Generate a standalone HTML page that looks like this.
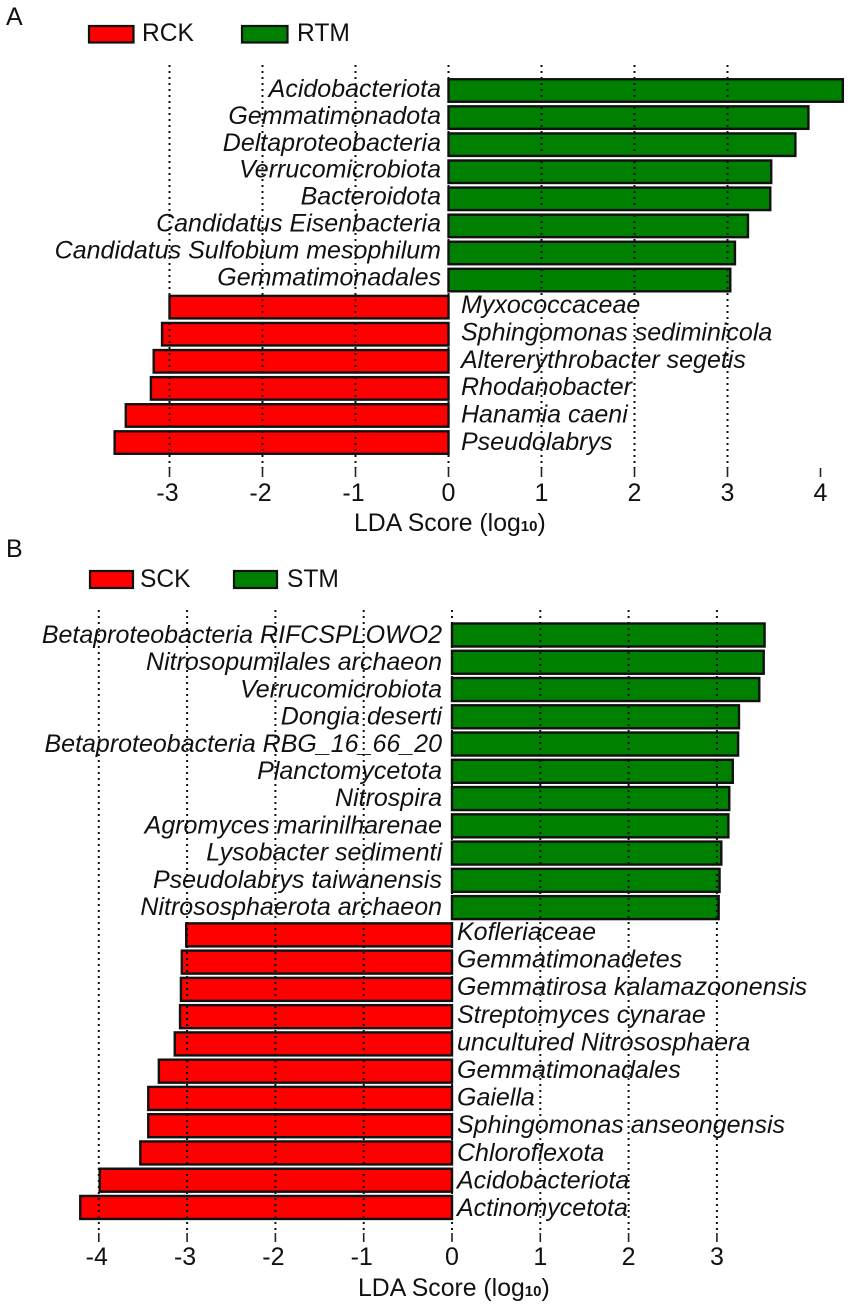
<!DOCTYPE html>
<html><head><meta charset="utf-8"><title>LDA score charts</title>
<style>
html,body{margin:0;padding:0;background:#fff}
svg{display:block;filter:blur(.35px)}
text{font-family:"Liberation Sans",sans-serif;fill:#111}
.lab{font-style:italic;font-size:25px}
.tick{font-size:25px;text-anchor:middle}
.ttl{font-size:24.8px;text-anchor:start}
.leg{font-size:24.6px}
</style></head>
<body>
<svg id="chart" xmlns="http://www.w3.org/2000/svg" width="851" height="1308" viewBox="0 0 851 1308">
<rect width="851" height="1308" fill="#fff"/>
<text x="6" y="25" style="font-size:25px">A</text>
<rect x="89" y="26" width="44.500" height="16.500" fill="#ff0000" stroke="#111" stroke-width="2.2"/>
<text x="142" y="41" class="leg">RCK</text>
<rect x="242" y="26" width="45.500" height="16.500" fill="#008000" stroke="#111" stroke-width="2.2"/>
<text x="297" y="41" class="leg">RTM</text>
<text x="354" y="531" class="ttl">LDA Score (log<tspan style="font-size:15px;font-weight:bold">10</tspan>)</text>
<text x="6" y="557" style="font-size:25px">B</text>
<rect x="90" y="571" width="43" height="17" fill="#ff0000" stroke="#111" stroke-width="2.2"/>
<text x="140" y="587" class="leg">SCK</text>
<rect x="234" y="571" width="43" height="17" fill="#008000" stroke="#111" stroke-width="2.2"/>
<text x="287" y="587" class="leg">STM</text>
<text x="358" y="1296" class="ttl">LDA Score (log<tspan style="font-size:15px;font-weight:bold">10</tspan>)</text>
</svg>
<script>
const categoriesA = ["Acidobacteriota","Gemmatimonadota","Deltaproteobacteria","Verrucomicrobiota","Bacteroidota","Candidatus Eisenbacteria","Candidatus Sulfobium mesophilum","Gemmatimonadales","Myxococcaceae","Sphingomonas sediminicola","Altererythrobacter segetis","Rhodanobacter","Hanamia caeni","Pseudolabrys"];
const valuesA = [4.24,3.87,3.73,3.47,3.46,3.22,3.08,3.03,-3.0,-3.08,-3.17,-3.2,-3.47,-3.59];
const ticksA = [-3,-2,-1,0,1,2,3,4];
const gridTicksA = [-3,-2,-1,0,1,2,3];
const categoriesB = ["Betaproteobacteria RIFCSPLOWO2","Nitrosopumilales archaeon","Verrucomicrobiota","Dongia deserti","Betaproteobacteria RBG_16_66_20","Planctomycetota","Nitrospira","Agromyces marinilharenae","Lysobacter sedimenti","Pseudolabrys taiwanensis","Nitrososphaerota archaeon","Kofleriaceae","Gemmatimonadetes","Gemmatirosa kalamazoonensis","Streptomyces cynarae","uncultured Nitrososphaera","Gemmatimonadales","Gaiella","Sphingomonas anseongensis","Chloroflexota","Acidobacteriota","Actinomycetota"];
const valuesB = [3.54,3.53,3.48,3.25,3.24,3.18,3.14,3.13,3.05,3.03,3.02,-3.01,-3.06,-3.07,-3.08,-3.14,-3.32,-3.44,-3.44,-3.53,-3.99,-4.21];
const ticksB = [-4,-3,-2,-1,0,1,2,3];
const gridTicksB = [-4,-3,-2,-1,0,1,2,3];

const svg = document.getElementById('chart');
const NS = 'http://www.w3.org/2000/svg';
function mk(tag, attrs, parent) {
  const e = document.createElementNS(NS, tag);
  for (const k in attrs) e.setAttribute(k, attrs[k]);
  (parent || svg).appendChild(e);
  return e;
}
function drawPanel(p, cats, vals, ticks, gridTicks) {
  const x = v => p.x0 + v * p.k;
  const y = i => p.yFirst + i * p.pitch;
  const firstNeg = vals.findIndex(v => v < 0);
  const labelY = i => i < firstNeg
    ? p.labPosFirst + i * p.labPosPitch
    : p.labNegFirst + (i - firstNeg) * p.labNegPitch;
  const g = mk('g', {});
  
  
  vals.forEach((v, i) => {
    const l = Math.min(x(0), x(v)), w = Math.abs(x(v) - x(0));
    const bar = mk('rect', {x: l, y: y(i) - p.h / 2, width: w, height: p.h, fill: v > 0 ? '#008000' : '#ff0000', stroke: '#111', 'stroke-width': 2.4}, g);
    
    
  });
  gridTicks.forEach(t => {
    const line = mk('line', {x1: x(t), x2: x(t), y1: p.gridTop, y2: p.tickTop, stroke: '#111', 'stroke-width': 2, 'stroke-dasharray': '2 4'}, g);
    
    
  });
  ticks.forEach(t => {
    const mark = mk('line', {x1: x(t), x2: x(t), y1: p.tickTop, y2: p.tickBottom, stroke: '#222', 'stroke-width': 1.6}, g);
    
    
    const txt = mk('text', {x: x(t) - (t < 0 ? 2 : 0), y: p.tickBase, class: 'tick'}, g);
    txt.textContent = String(t);
    
    
  });
  cats.forEach((c, i) => {
    const pos = vals[i] > 0;
    const txt = mk('text', {x: pos ? p.labRight : p.labLeft, y: labelY(i) + 9, class: 'lab', 'text-anchor': pos ? 'end' : 'start'}, g);
    txt.textContent = c;
    
    
  });
}
drawPanel({name:'panel-a', x0:448.5, k:93, yFirst:90.5, pitch:27.08, h:22.5, gridTop:65, tickTop:468, tickBottom:477, tickBase:501, labRight:441, labLeft:461, labPosFirst:88, labPosPitch:26.9, labNegFirst:304, labNegPitch:27.4}, categoriesA, valuesA, ticksA, gridTicksA);
drawPanel({name:'panel-b', x0:452, k:88.3, yFirst:635, pitch:27.26, h:23, gridTop:610, tickTop:1233, tickBottom:1242, tickBase:1265, labRight:442, labLeft:457, labPosFirst:634, labPosPitch:27.2, labNegFirst:931, labNegPitch:27.6}, categoriesB, valuesB, ticksB, gridTicksB);
</script>
</body></html>
